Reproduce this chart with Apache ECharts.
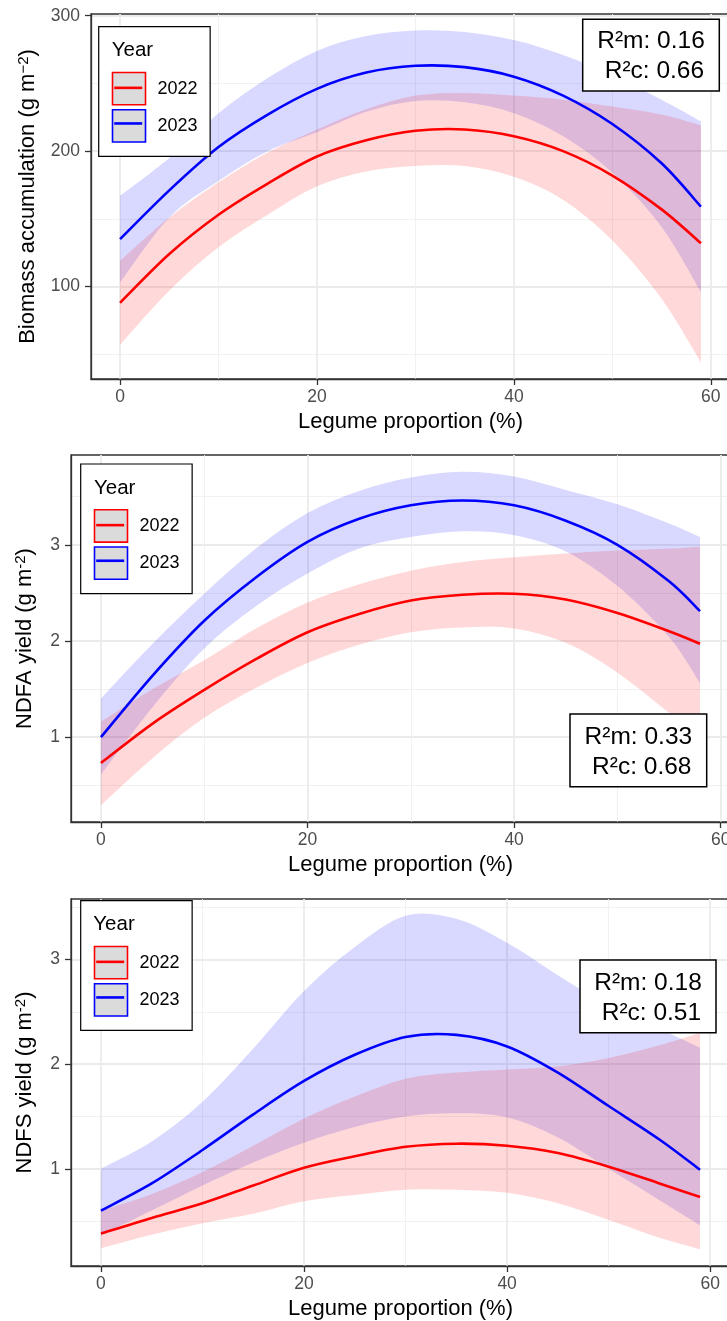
<!DOCTYPE html>
<html>
<head>
<meta charset="utf-8">
<script src="https://cdn.jsdelivr.net/npm/echarts@6/dist/echarts.min.js"></script>
<style>
html,body{margin:0;padding:0;background:#fff;}
#chart{width:727px;height:1321px;}
</style>
</head>
<body>
<div id="chart"></div>
<script>
// ---------------- data ----------------
const years = ['2022', '2023'];
const xTicks = [0, 20, 40, 60];
const yTicksBiomass = [100, 200, 300];
const yTicksNdfa = [1, 2, 3];
const yTicksNdfs = [1, 2, 3];

// Panel 1: Biomass accumulation
const xsBiomass = [0, 5, 10, 15, 20, 25, 30, 35, 40, 45, 50, 55, 59];
const bio2022   = [88, 124, 153, 176, 196, 208, 215, 216, 211, 200, 182, 157, 132];
const bio2022Lo = [57, 97, 129, 153, 174, 185, 189, 189, 181, 164, 134, 91, 44];
const bio2022Hi = [119, 151, 177, 199, 216, 231, 241, 243, 241, 238, 233, 227, 219];
const bio2023   = [135, 171, 203, 227, 246, 258, 263, 262, 255, 241, 220, 191, 159];
const bio2023Lo = [103, 151, 178, 200, 214, 229, 237, 236, 228, 211, 184, 144, 96];
const bio2023Hi = [167, 195, 228, 254, 274, 285, 289, 288, 282, 271, 256, 238, 222];

// Panel 2: NDFA yield
const xsNdfa = [0, 5, 10, 15, 20, 25, 30, 35, 40, 45, 50, 55, 58];
const ndfa2022   = [0.73, 1.14, 1.49, 1.81, 2.09, 2.28, 2.42, 2.48, 2.49, 2.43, 2.29, 2.10, 1.97];
const ndfa2022Lo = [0.29, 0.78, 1.20, 1.51, 1.77, 1.96, 2.09, 2.14, 2.13, 1.98, 1.67, 1.25, 0.96];
const ndfa2022Hi = [1.16, 1.50, 1.80, 2.13, 2.40, 2.59, 2.73, 2.82, 2.87, 2.91, 2.94, 2.96, 2.98];
const ndfa2023   = [1.00, 1.64, 2.21, 2.66, 3.03, 3.27, 3.41, 3.46, 3.41, 3.25, 3.00, 2.62, 2.31];
const ndfa2023Lo = [0.61, 1.31, 1.92, 2.36, 2.70, 2.96, 3.08, 3.14, 3.10, 2.93, 2.57, 2.04, 1.56];
const ndfa2023Hi = [1.40, 1.97, 2.49, 2.96, 3.33, 3.56, 3.70, 3.76, 3.71, 3.57, 3.42, 3.22, 3.08];

// Panel 3: NDFS yield
const xsNdfs = [0, 5, 10, 15, 20, 25, 30, 35, 40, 45, 50, 55, 59];
const ndfs2022   = [0.38, 0.53, 0.67, 0.84, 1.01, 1.12, 1.21, 1.24, 1.22, 1.15, 1.02, 0.86, 0.73];
const ndfs2022Lo = [0.24, 0.37, 0.48, 0.57, 0.69, 0.75, 0.80, 0.80, 0.77, 0.67, 0.51, 0.34, 0.23];
const ndfs2022Hi = [0.60, 0.76, 0.97, 1.22, 1.48, 1.69, 1.86, 1.92, 1.95, 1.98, 2.06, 2.18, 2.30];
const ndfs2023   = [0.60, 0.86, 1.18, 1.52, 1.84, 2.09, 2.26, 2.28, 2.17, 1.92, 1.60, 1.28, 0.99];
const ndfs2023Lo = [0.36, 0.60, 0.84, 1.06, 1.25, 1.40, 1.50, 1.53, 1.49, 1.30, 1.00, 0.70, 0.46];
const ndfs2023Hi = [1.00, 1.26, 1.64, 2.15, 2.70, 3.12, 3.42, 3.39, 3.16, 2.85, 2.56, 2.34, 2.16];

const xTitle = 'Legume proportion (%)';
const yTitles = [
  '{t|Biomass accumulation (g m}{s|\u22122}{t|)}',
  '{t|NDFA yield (g m}{s|-2}{t|)}',
  '{t|NDFS yield (g m}{s|-2}{t|)}'
];
const r2Texts = ['R\u00B2m: 0.16\n R\u00B2c: 0.66', 'R\u00B2m: 0.33\n R\u00B2c: 0.68', 'R\u00B2m: 0.18\n R\u00B2c: 0.51'];

// ---------------- layout / style ----------------
const FONT = '"Liberation Sans", Arial, Helvetica, sans-serif';
const RED = '#FF0000', BLUE = '#0000FF';
const RED_FILL = 'rgba(255,0,0,0.15)', BLUE_FILL = 'rgba(0,0,255,0.15)';

const gridBoxes = [
  {left: 91, top: 14, width: 639, height: 365},
  {left: 71, top: 455, width: 659, height: 367},
  {left: 71, top: 899, width: 659, height: 367}
];
const yNameGaps = [51, 34, 34];
const legendPos = [{left: 98.7, top: 26.7}, {left: 80.7, top: 464}, {left: 80.7, top: 900.7}];
const yearTitlePos = [{x: 111.7, y: 50.5}, {x: 94, y: 488}, {x: 93.3, y: 924.5}];
const r2Boxes = [
  {x: 582.7, y: 19.3, w: 136.6, h: 71.7},
  {x: 570, y: 714, w: 136.7, h: 72.7},
  {x: 580, y: 960, w: 136, h: 72.7}
];

const panels = [
  {xs: xsBiomass, r: bio2022, rLo: bio2022Lo, rHi: bio2022Hi, b: bio2023, bLo: bio2023Lo, bHi: bio2023Hi, yTicks: yTicksBiomass},
  {xs: xsNdfa, r: ndfa2022, rLo: ndfa2022Lo, rHi: ndfa2022Hi, b: ndfa2023, bLo: ndfa2023Lo, bHi: ndfa2023Hi, yTicks: yTicksNdfa},
  {xs: xsNdfs, r: ndfs2022, rLo: ndfs2022Lo, rHi: ndfs2022Hi, b: ndfs2023, bLo: ndfs2023Lo, bHi: ndfs2023Hi, yTicks: yTicksNdfs}
];

function expanded(arrs) {
  const all = [].concat(...arrs);
  const mn = Math.min(...all), mx = Math.max(...all), r = mx - mn;
  return [mn - 0.05 * r, mx + 0.05 * r];
}
// Catmull-Rom spline through pixel points -> cubic bezier path commands
function splineCmds(pts) {
  let d = '';
  for (let i = 0; i < pts.length - 1; i++) {
    const p0 = pts[i - 1] || pts[i], p1 = pts[i], p2 = pts[i + 1], p3 = pts[i + 2] || pts[i + 1];
    const c1 = [p1[0] + (p2[0] - p0[0]) / 6, p1[1] + (p2[1] - p0[1]) / 6];
    const c2 = [p2[0] - (p3[0] - p1[0]) / 6, p2[1] - (p3[1] - p1[1]) / 6];
    d += ' C' + c1[0] + ' ' + c1[1] + ' ' + c2[0] + ' ' + c2[1] + ' ' + p2[0] + ' ' + p2[1];
  }
  return d;
}
function linePath(api, xs, ys) {
  const pts = xs.map((x, k) => api.coord([x, ys[k]]));
  return 'M' + pts[0][0] + ' ' + pts[0][1] + splineCmds(pts);
}
function ribbonPath(api, xs, lo, hi) {
  const up = xs.map((x, k) => api.coord([x, hi[k]]));
  const dn = xs.map((x, k) => api.coord([x, lo[k]])).reverse();
  return 'M' + up[0][0] + ' ' + up[0][1] + splineCmds(up) +
         ' L' + dn[0][0] + ' ' + dn[0][1] + splineCmds(dn) + ' Z';
}

const grid = [], xAxis = [], yAxis = [], series = [], legend = [], graphic = [];

panels.forEach((p, i) => {
  grid.push(Object.assign({show: true, borderColor: '#333333', borderWidth: 1.3, backgroundColor: 'transparent', containLabel: false, outerBoundsMode: 'none'}, gridBoxes[i]));
  const xe = expanded([p.xs]);
  const ye = expanded([p.rLo, p.rHi, p.bLo, p.bHi, p.r, p.b]);
  xAxis.push({
    gridIndex: i, type: 'value', min: xe[0], max: xe[1], splitNumber: 3,
    axisLine: {show: true, onZero: false, lineStyle: {color: '#333333', width: 1.3}},
    axisTick: {show: true, length: 6, lineStyle: {color: '#333333', width: 1.3}, customValues: xTicks},
    axisLabel: {customValues: xTicks, color: '#4D4D4D', fontSize: 17.5, fontFamily: FONT, margin: 9},
    splitLine: {show: true, lineStyle: {color: '#EBEBEB', width: 1.8}},
    minorTick: {show: false, splitNumber: 2},
    minorSplitLine: {show: true, lineStyle: {color: '#EFEFEF', width: 0.9}},
    name: xTitle, nameLocation: 'middle', nameGap: 32, nameMoveOverlap: false,
    nameTextStyle: {fontSize: 22, color: '#000', fontFamily: FONT}
  });
  yAxis.push({
    gridIndex: i, type: 'value', min: ye[0], max: ye[1], splitNumber: 3,
    axisLine: {show: true, onZero: false, lineStyle: {color: '#333333', width: 1.3}},
    axisTick: {show: true, length: 6, lineStyle: {color: '#333333', width: 1.3}, customValues: p.yTicks},
    axisLabel: {customValues: p.yTicks, color: '#4D4D4D', fontSize: 17.5, fontFamily: FONT, margin: 11},
    splitLine: {show: true, lineStyle: {color: '#EBEBEB', width: 1.8}},
    minorTick: {show: false, splitNumber: 2},
    minorSplitLine: {show: true, lineStyle: {color: '#EFEFEF', width: 0.9}},
    name: yTitles[i], nameLocation: 'middle', nameGap: yNameGaps[i], nameRotate: 90, nameMoveOverlap: false,
    nameTextStyle: {
      fontSize: 22, color: '#000', fontFamily: FONT,
      rich: {
        t: {fontSize: 22, color: '#000', fontFamily: FONT, lineHeight: 24},
        s: {fontSize: 15, color: '#000', fontFamily: FONT, lineHeight: 15, verticalAlign: 'top'}
      }
    }
  });

  const rows = p.xs.map((x, k) => [x, Math.min(p.rLo[k], p.bLo[k]), Math.max(p.rHi[k], p.bHi[k])]);
  const base = {type: 'custom', coordinateSystem: 'cartesian2d', xAxisIndex: i, yAxisIndex: i, silent: true,
                data: rows, encode: {x: 0, y: [1, 2]}};
  // confidence ribbons: blue first, red over it
  series.push(Object.assign({}, base, {
    name: 'ribbons_' + i, z: 1,
    renderItem: (params, api) => {
      if (params.dataIndex !== 0) return null;
      return {type: 'group', children: [
        {type: 'path', shape: {pathData: ribbonPath(api, p.xs, p.bLo, p.bHi)}, style: {fill: BLUE_FILL, stroke: null}},
        {type: 'path', shape: {pathData: ribbonPath(api, p.xs, p.rLo, p.rHi)}, style: {fill: RED_FILL, stroke: null}}
      ]};
    }
  }));
  // fitted lines
  [[years[0], p.r, RED], [years[1], p.b, BLUE]].forEach(([nm, ys, col]) => {
    series.push(Object.assign({}, base, {
      name: nm, z: 3, itemStyle: {color: col},
      renderItem: (params, api) => {
        if (params.dataIndex !== 0) return null;
        return {type: 'path', shape: {pathData: linePath(api, p.xs, ys)},
                style: {fill: null, stroke: col, lineWidth: 2.6, lineJoin: 'round', lineCap: 'butt'}};
      }
    }));
  });

  // legend: key boxes
  legend.push({
    left: legendPos[i].left, top: legendPos[i].top, orient: 'vertical',
    padding: [45, 12.6, 13.6, 13], itemWidth: 33, itemHeight: 32.3, itemGap: 3.3,
    backgroundColor: '#FFFFFF', borderColor: '#000000', borderWidth: 1.2, borderRadius: 0,
    icon: 'rect', selectedMode: false, z: 5,
    textStyle: {fontSize: 18, color: '#000', fontFamily: FONT, padding: [0, 0, 0, 7]},
    data: [
      {name: years[0], icon: 'rect', itemStyle: {color: '#DBDBDB', borderColor: RED, borderWidth: 1.6}},
      {name: years[1], icon: 'rect', itemStyle: {color: '#DBDBDB', borderColor: BLUE, borderWidth: 1.6}}
    ]
  });
  // legend: line through the keys
  legend.push({
    left: legendPos[i].left, top: legendPos[i].top, orient: 'vertical',
    padding: [45, 0, 0, 15.5], itemWidth: 28, itemHeight: 2.6, itemGap: 3.3,
    backgroundColor: 'transparent', borderWidth: 0,
    icon: 'rect', selectedMode: false, z: 6,
    textStyle: {fontSize: 18, color: 'rgba(0,0,0,0)', fontFamily: FONT, lineHeight: 32.3},
    data: [
      {name: years[0], icon: 'rect', itemStyle: {color: RED, borderWidth: 0}},
      {name: years[1], icon: 'rect', itemStyle: {color: BLUE, borderWidth: 0}}
    ]
  });

  graphic.push({
    type: 'text', z: 20, x: yearTitlePos[i].x, y: yearTitlePos[i].y,
    style: {text: 'Year', fill: '#000', fontSize: 20.5, fontFamily: FONT, textAlign: 'left', textVerticalAlign: 'middle', align: 'left', verticalAlign: 'middle'}
  });
  const bx = r2Boxes[i];
  graphic.push({
    type: 'rect', z: 20, shape: {x: bx.x, y: bx.y, width: bx.w, height: bx.h},
    style: {fill: '#FFFFFF', stroke: '#000000', lineWidth: 1.5}
  });
  graphic.push({
    type: 'text', z: 21, x: bx.x + bx.w / 2, y: bx.y + bx.h / 2 + 1.5,
    style: {text: r2Texts[i], fill: '#000', fontSize: 24.5, fontFamily: FONT, lineHeight: 30,
      textAlign: 'center', textVerticalAlign: 'middle', align: 'center', verticalAlign: 'middle'}
  });
});

const chart = echarts.init(document.getElementById('chart'), null, {renderer: 'canvas'});
chart.setOption({
  animation: false,
  backgroundColor: '#FFFFFF',
  textStyle: {fontFamily: FONT},
  grid, xAxis, yAxis, series, legend, graphic
});
</script>
</body>
</html>
